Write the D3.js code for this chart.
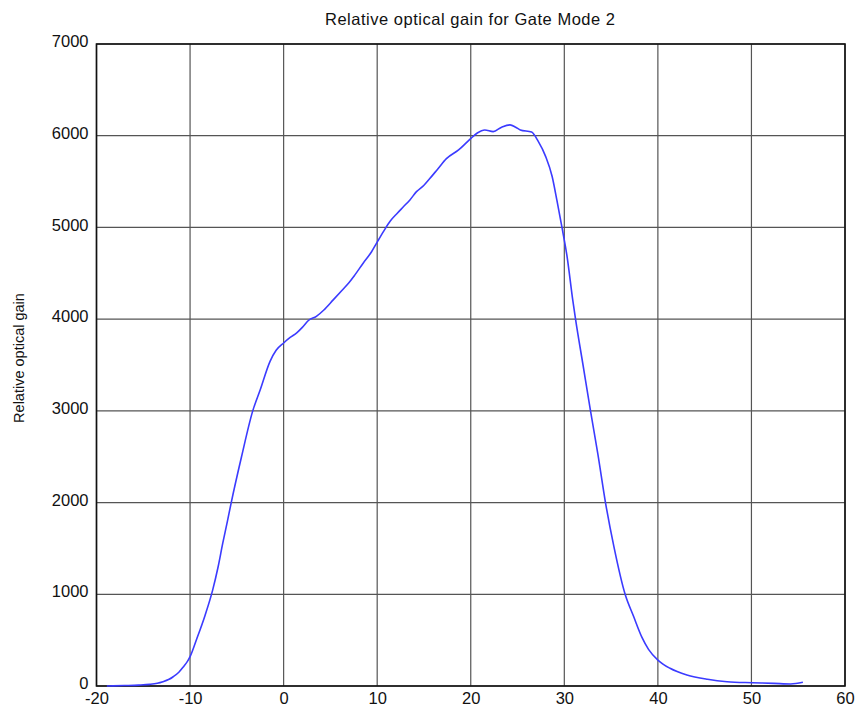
<!DOCTYPE html>
<html>
<head>
<meta charset="utf-8">
<script src="https://cdn.jsdelivr.net/npm/d3@7"></script>
<style>
  html, body { margin: 0; padding: 0; background: #fff; }
  svg { display: block; font-family: "Liberation Sans", Arial, sans-serif; }
</style>
</head>
<body>
<svg id="chart" width="855" height="708"></svg>
<script>
// Gate delay (x) and relative optical gain (y)
const delay = [-18.9, -17, -15.5, -14.3, -13.5, -12.9, -12.3, -11.8, -11.2, -10.7, -10.3, -10,
  -9.3, -8.4, -7.6, -7.0, -6.5, -6.0, -5.6, -4.5, -3.3, -2.5, -1.45, -0.8, 0, 0.7, 1.4, 2.0,
  2.65, 3.5, 4.3, 5.3, 6.2, 7.0, 7.6, 8.5, 9.4, 10.0, 10.7, 11.4, 12.1, 12.8, 13.5, 14.2, 15.0,
  15.6, 16.5, 17.4, 18.7, 19.9, 20.7, 21.5, 22.4, 23.3, 24.2, 24.8, 25.3, 26.5, 27.2, 28.0,
  28.7, 29.2, 29.75, 30.3, 30.9, 31.2, 32.0, 32.8, 33.6, 34.4, 35.3, 36.5, 37.4, 38.3, 39.0,
  40.0, 41.3, 43.1, 45.3, 47.4, 50.1, 52.4, 54.2, 55.5];
const gain = [0, 5, 10, 18, 30, 47, 70, 101, 150, 211, 265, 320,
  510, 770, 1040, 1300, 1560, 1800, 2000, 2500, 3000, 3230, 3540, 3660, 3740, 3800, 3850, 3910,
  3985, 4030, 4100, 4210, 4310, 4400, 4480, 4610, 4735, 4840, 4960, 5070, 5150, 5225, 5300, 5390, 5460,
  5530, 5640, 5750, 5845, 5960, 6030, 6063, 6045, 6093, 6118, 6093, 6063, 6040, 5940, 5775,
  5555, 5300, 5000, 4680, 4210, 4000, 3500, 3000, 2520, 2000, 1520, 1000, 760, 530, 400,
  283, 193, 120, 73, 47, 36, 29, 22, 40];
const xTicks = [-20, -10, 0, 10, 20, 30, 40, 50, 60];
const yTicks = [0, 1000, 2000, 3000, 4000, 5000, 6000, 7000];
const title = "Relative optical gain for Gate Mode 2";
const yLabel = "Relative optical gain";

const svg = d3.select("#chart");
const m = { left: 96.5, right: 845, top: 44, bottom: 686 };

const x = d3.scaleLinear().domain([-20, 60]).range([m.left, m.right]);
const y = d3.scaleLinear().domain([0, 7000]).range([m.bottom, m.top]);

// grid
const grid = svg.append("g").attr("stroke", "#555").attr("stroke-width", 1.2);
grid.selectAll("line.v").data(xTicks).join("line").attr("class", "v")
  .attr("x1", d => x(d)).attr("x2", d => x(d)).attr("y1", m.top).attr("y2", m.bottom);
grid.selectAll("line.h").data(yTicks).join("line").attr("class", "h")
  .attr("x1", m.left).attr("x2", m.right).attr("y1", d => y(d)).attr("y2", d => y(d));

// axes (plain hyphen for negatives)
const fmt = d => String(d);
const xAxis = svg.append("g").attr("transform", `translate(0,${m.bottom})`)
  .call(d3.axisBottom(x).tickValues(xTicks).tickSize(0).tickPadding(6).tickFormat(fmt));
const yAxis = svg.append("g").attr("transform", `translate(${m.left},0)`)
  .call(d3.axisLeft(y).tickValues(yTicks).tickSize(0).tickPadding(8).tickFormat(fmt));
[xAxis, yAxis].forEach(a => {
  a.select(".domain").remove();
  a.selectAll("text").attr("font-size", 16.5).attr("fill", "#111")
    .attr("font-family", "'Liberation Sans', Arial, sans-serif");
});
yAxis.selectAll("text").attr("dy", "0.16em");

// frame
svg.append("rect").attr("x", m.left).attr("y", m.top)
  .attr("width", m.right - m.left).attr("height", m.bottom - m.top)
  .attr("fill", "none").attr("stroke", "#111").attr("stroke-width", 1.6);

// curve
const pts = delay.map((d, i) => [d, gain[i]]);
svg.append("path").datum(pts)
  .attr("fill", "none").attr("stroke", "#3b3bff").attr("stroke-width", 1.6)
  .attr("d", d3.line().x(d => x(d[0])).y(d => y(d[1])).curve(d3.curveMonotoneX));

// title
svg.append("text").attr("x", 470).attr("y", 25)
  .attr("text-anchor", "middle").attr("font-size", 16.5)
  .attr("textLength", 290).attr("lengthAdjust", "spacing")
  .attr("fill", "#111").text(title);

// y label
svg.append("text").attr("transform", `translate(24,358) rotate(-90)`)
  .attr("text-anchor", "middle").attr("font-size", 14.5).attr("fill", "#111").text(yLabel);
</script>
</body>
</html>
